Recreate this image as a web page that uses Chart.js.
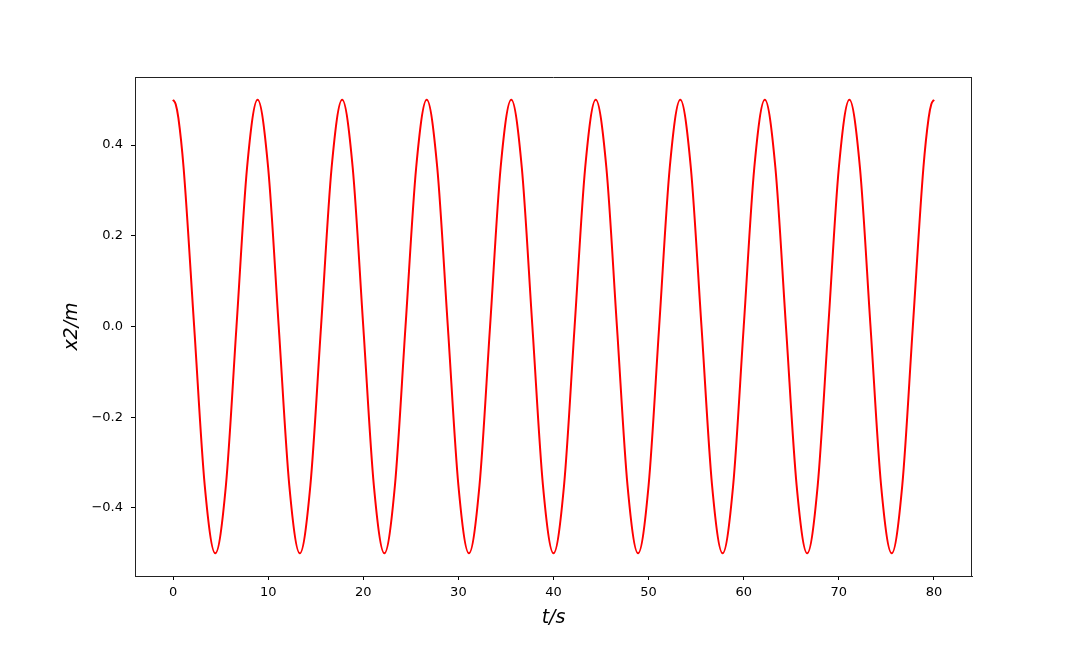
<!DOCTYPE html>
<html>
<head>
<meta charset="utf-8">
<script src="https://cdn.jsdelivr.net/npm/chart.js@4/dist/chart.umd.min.js"></script>
<style>
  html, body { margin: 0; padding: 0; background: #ffffff; }
  #c { display: block; }
</style>
</head>
<body>
<canvas id="c" width="1080" height="648"></canvas>
<script>
// Sample times (s)
const times = [
  0, 0.28, 0.56, 1.11, 2.22, 3.33, 4.44, 5.56, 6.67, 7.78,
  8.89, 10.0, 11.11, 12.22, 13.33, 14.44, 15.56, 16.67,
  17.78, 18.89, 20.0, 21.11, 22.22, 23.33, 24.44, 25.56,
  26.67, 27.78, 28.89, 30.0, 31.11, 32.22, 33.33, 34.44,
  35.56, 36.67, 37.78, 38.89, 40.0, 41.11, 42.22, 43.33,
  44.44, 45.56, 46.67, 47.78, 48.89, 50.0, 51.11, 52.22,
  53.33, 54.44, 55.56, 56.67, 57.78, 58.89, 60.0, 61.11,
  62.22, 63.33, 64.44, 65.56, 66.67, 67.78, 68.89, 70.0,
  71.11, 72.22, 73.33, 74.44, 75.56, 76.67, 77.78, 78.89,
  79.44, 79.72, 80.0
];
// x2 values (m) read at those times
const x2 = [
  0.5, 0.49, 0.46, 0.35, 0.0, -0.35, -0.5, -0.35, 0.0, 0.35,
  0.5, 0.35, 0.0, -0.35, -0.5, -0.35, 0.0, 0.35,
  0.5, 0.35, 0.0, -0.35, -0.5, -0.35, 0.0, 0.35,
  0.5, 0.35, 0.0, -0.35, -0.5, -0.35, 0.0, 0.35,
  0.5, 0.35, 0.0, -0.35, -0.5, -0.35, 0.0, 0.35,
  0.5, 0.35, 0.0, -0.35, -0.5, -0.35, 0.0, 0.35,
  0.5, 0.35, 0.0, -0.35, -0.5, -0.35, 0.0, 0.35,
  0.5, 0.35, 0.0, -0.35, -0.5, -0.35, 0.0, 0.35,
  0.5, 0.35, 0.0, -0.35, -0.5, -0.35, 0.0, 0.35,
  0.46, 0.49, 0.5
];
const xTicks = [0, 10, 20, 30, 40, 50, 60, 70, 80];
const yTicks = [-0.4, -0.2, 0.0, 0.2, 0.4];
const xLabel = 't/s';
const yLabel = 'x2/m';

const points = times.map((t, i) => ({ x: t, y: x2[i] }));
const tickFont = { family: 'DejaVu Sans', size: 13 };
const titleFont = { family: 'DejaVu Sans', size: 19, style: 'italic' };

new Chart(document.getElementById('c'), {
  type: 'line',
  data: {
    datasets: [{
      data: points,
      borderColor: '#ff0000',
      borderWidth: 2,
      pointRadius: 0,
      fill: false,
      cubicInterpolationMode: 'monotone'
    }]
  },
  options: {
    responsive: false,
    animation: false,
    devicePixelRatio: 1,
    layout: { padding: { left: 0, top: 77, right: 108, bottom: 0 } },
    plugins: { legend: { display: false }, tooltip: { enabled: false } },
    scales: {
      x: {
        type: 'linear',
        min: -4, max: 84,
        afterBuildTicks: s => { s.ticks = xTicks.map(v => ({ value: v })); },
        afterFit: s => { s.height = 72; },
        grid: { drawOnChartArea: false, drawTicks: true, tickLength: 4, tickColor: '#000', tickWidth: 1 },
        border: { display: true, color: '#222', width: 1 },
        ticks: { color: '#000', font: tickFont, padding: 5, maxRotation: 0,
                 callback: v => String(v) },
        title: { display: true, text: xLabel, color: '#000', font: titleFont, padding: { top: 0, bottom: 18.6 } }
      },
      y: {
        type: 'linear',
        min: -0.55, max: 0.55,
        afterBuildTicks: s => { s.ticks = yTicks.map(v => ({ value: v })); },
        afterFit: s => { s.width = 135; },
        grid: { drawOnChartArea: false, drawTicks: true, tickLength: 4, tickColor: '#000', tickWidth: 1 },
        border: { display: true, color: '#222', width: 1 },
        ticks: { color: '#000', font: tickFont, padding: 8,
                 callback: v => v.toFixed(1).replace('-', '\u2212') },
        title: { display: true, text: yLabel, color: '#000', font: titleFont, padding: { top: 60.6, bottom: 0 } }
      }
    }
  },
  plugins: [{
    id: 'frame',
    afterDraw(chart) {
      const { ctx, chartArea: a } = chart;
      ctx.save();
      ctx.strokeStyle = '#222';
      ctx.lineWidth = 1;
      ctx.beginPath();
      ctx.moveTo(a.left, a.top + 0.5);
      ctx.lineTo(a.right, a.top + 0.5);
      ctx.moveTo(a.right - 0.5, a.top);
      ctx.lineTo(a.right - 0.5, a.bottom);
      ctx.stroke();
      ctx.restore();
    }
  }]
});
</script>
</body>
</html>
